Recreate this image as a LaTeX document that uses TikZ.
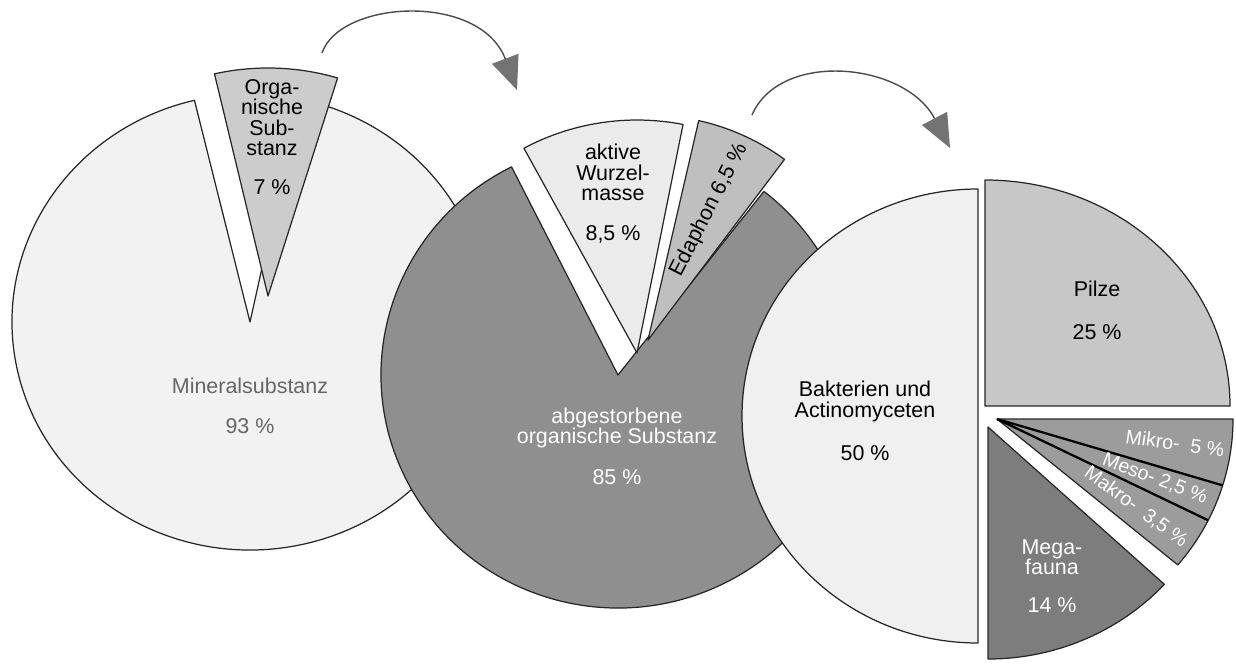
\documentclass[tikz,border=0pt]{standalone}
\usepackage{fontspec}
\setmainfont{Liberation Sans}
\usetikzlibrary{arrows.meta}

\definecolor{mineral}{gray}{0.95}
\definecolor{organic}{gray}{0.80}
\definecolor{dead}{gray}{0.56}
\definecolor{roots}{gray}{0.92}
\definecolor{edaphon}{gray}{0.75}
\definecolor{bacteria}{gray}{0.94}
\definecolor{fungi}{gray}{0.78}
\definecolor{fauna}{gray}{0.61}
\definecolor{megafauna}{gray}{0.49}

\begin{document}
\begin{tikzpicture}[x=0.02cm,y=0.02cm,
  piece/.style={draw=black!85,line width=0.7pt,line join=round},
  lbl/.style={align=center,inner sep=0pt,font=\fontsize{12.2}{11.6}\selectfont},
  sml/.style={inner sep=0pt,text=white,font=\fontsize{11.2}{11.2}\selectfont},
  flow/.style={draw=black!70,line width=0.8pt,-{Triangle[length=19pt,width=16pt,color=black!55]}}]
\useasboundingbox[fill=white] (0,0) rectangle (1236,-666);

\coordinate (cmin) at (250,-322);
\coordinate (corg) at (268,-296);
\coordinate (cdead) at (618,-375);
\coordinate (cakt) at (637,-353);
\coordinate (ceda) at (648,-340);
\coordinate (cbak) at (978,-416);
\coordinate (cpil) at (985,-406);
\coordinate (cfau) at (997,-419);
\coordinate (cmeg) at (988,-427);

\filldraw[piece,fill=mineral] (cmin) -- ++(103.5:238 and 228) arc[start angle=103.5,end angle=438,x radius=238,y radius=228] -- cycle;
\filldraw[piece,fill=organic] (corg) -- ++(73:238 and 228) arc[start angle=73,end angle=103,x radius=238,y radius=228] -- cycle;

\filldraw[piece,fill=dead] (cdead) -- ++(116.7:237 and 233) arc[start angle=116.7,end angle=412,x radius=237,y radius=233] -- cycle;
\filldraw[piece,fill=roots] (cakt) -- ++(78.8:237 and 233) arc[start angle=78.8,end angle=118.5,x radius=237,y radius=233] -- cycle;
\filldraw[piece,fill=edaphon] (ceda) -- ++(53.4:229 and 225) arc[start angle=53.4,end angle=77.2,x radius=229,y radius=225] -- cycle;

\filldraw[piece,fill=bacteria] (cbak) -- ++(90:236 and 227) arc[start angle=90,end angle=270,x radius=236,y radius=227] -- cycle;
\filldraw[piece,fill=fungi] (cpil) -- ++(0:245 and 226) arc[start angle=0,end angle=90,x radius=245,y radius=226] -- cycle;
\filldraw[piece,fill=fauna] (cfau) -- ++(0:236 and 227) arc[start angle=0,end angle=-40,x radius=236,y radius=227] -- cycle;
\draw[line width=1.3pt] (cfau) -- ++(-17:236 and 227);
\draw[line width=1.3pt] (cfau) -- ++(-26.5:236 and 227);
\filldraw[piece,fill=megafauna] (cmeg) -- ++(-90:240 and 232) arc[start angle=-90,end angle=-42.7,x radius=240,y radius=232] -- cycle;

\node[lbl,text=black!60] (lmin) at (250,-406) {Mineralsubstanz\\[11.2pt]93 \%};
\node[lbl] (lorg) at (272,-137) {Orga-\\nische\\Sub-\\stanz\\[10.6pt]7 \%};
\node[lbl,text=white] (labg) at (617,-446) {abgestorbene\\organische Substanz\\[11.7pt]85 \%};
\node[lbl] (lakt) at (613,-194) {aktive\\Wurzel-\\masse\\[11.2pt]8,5 \%};
\node[lbl,rotate=63] (leda) at (709,-210) {Edaphon 6,5 \%};
\node[lbl] (lbak) at (865,-421) {Bakterien und\\Actinomyceten\\[12.9pt]50 \%};
\node[lbl] (lpil) at (1097,-310) {Pilze\\[12.9pt]25 \%};
\node[sml,rotate=-8] (lmik) at (1175,-443) {Mikro-\ \ 5 \%};
\node[sml,rotate=-21] (lmes) at (1155,-479) {Meso-\ 2,5 \%};
\node[sml,rotate=-36] (lmak) at (1136,-507) {Makro-\ \ 3,5 \%};
\node[lbl,text=white] (lmeg) at (1052,-576) {Mega-\\fauna\\[10pt]14 \%};

\coordinate (a1s) at (322,-53);
\coordinate (a1e) at (517,-90);
\coordinate (a2s) at (752,-115);
\coordinate (a2e) at (950,-148);
\draw[flow] (a1s) .. controls (340,0) and (480,8) .. (a1e);
\draw[flow] (a2s) .. controls (780,-50) and (905,-62) .. (a2e);
\end{tikzpicture}
\end{document}
